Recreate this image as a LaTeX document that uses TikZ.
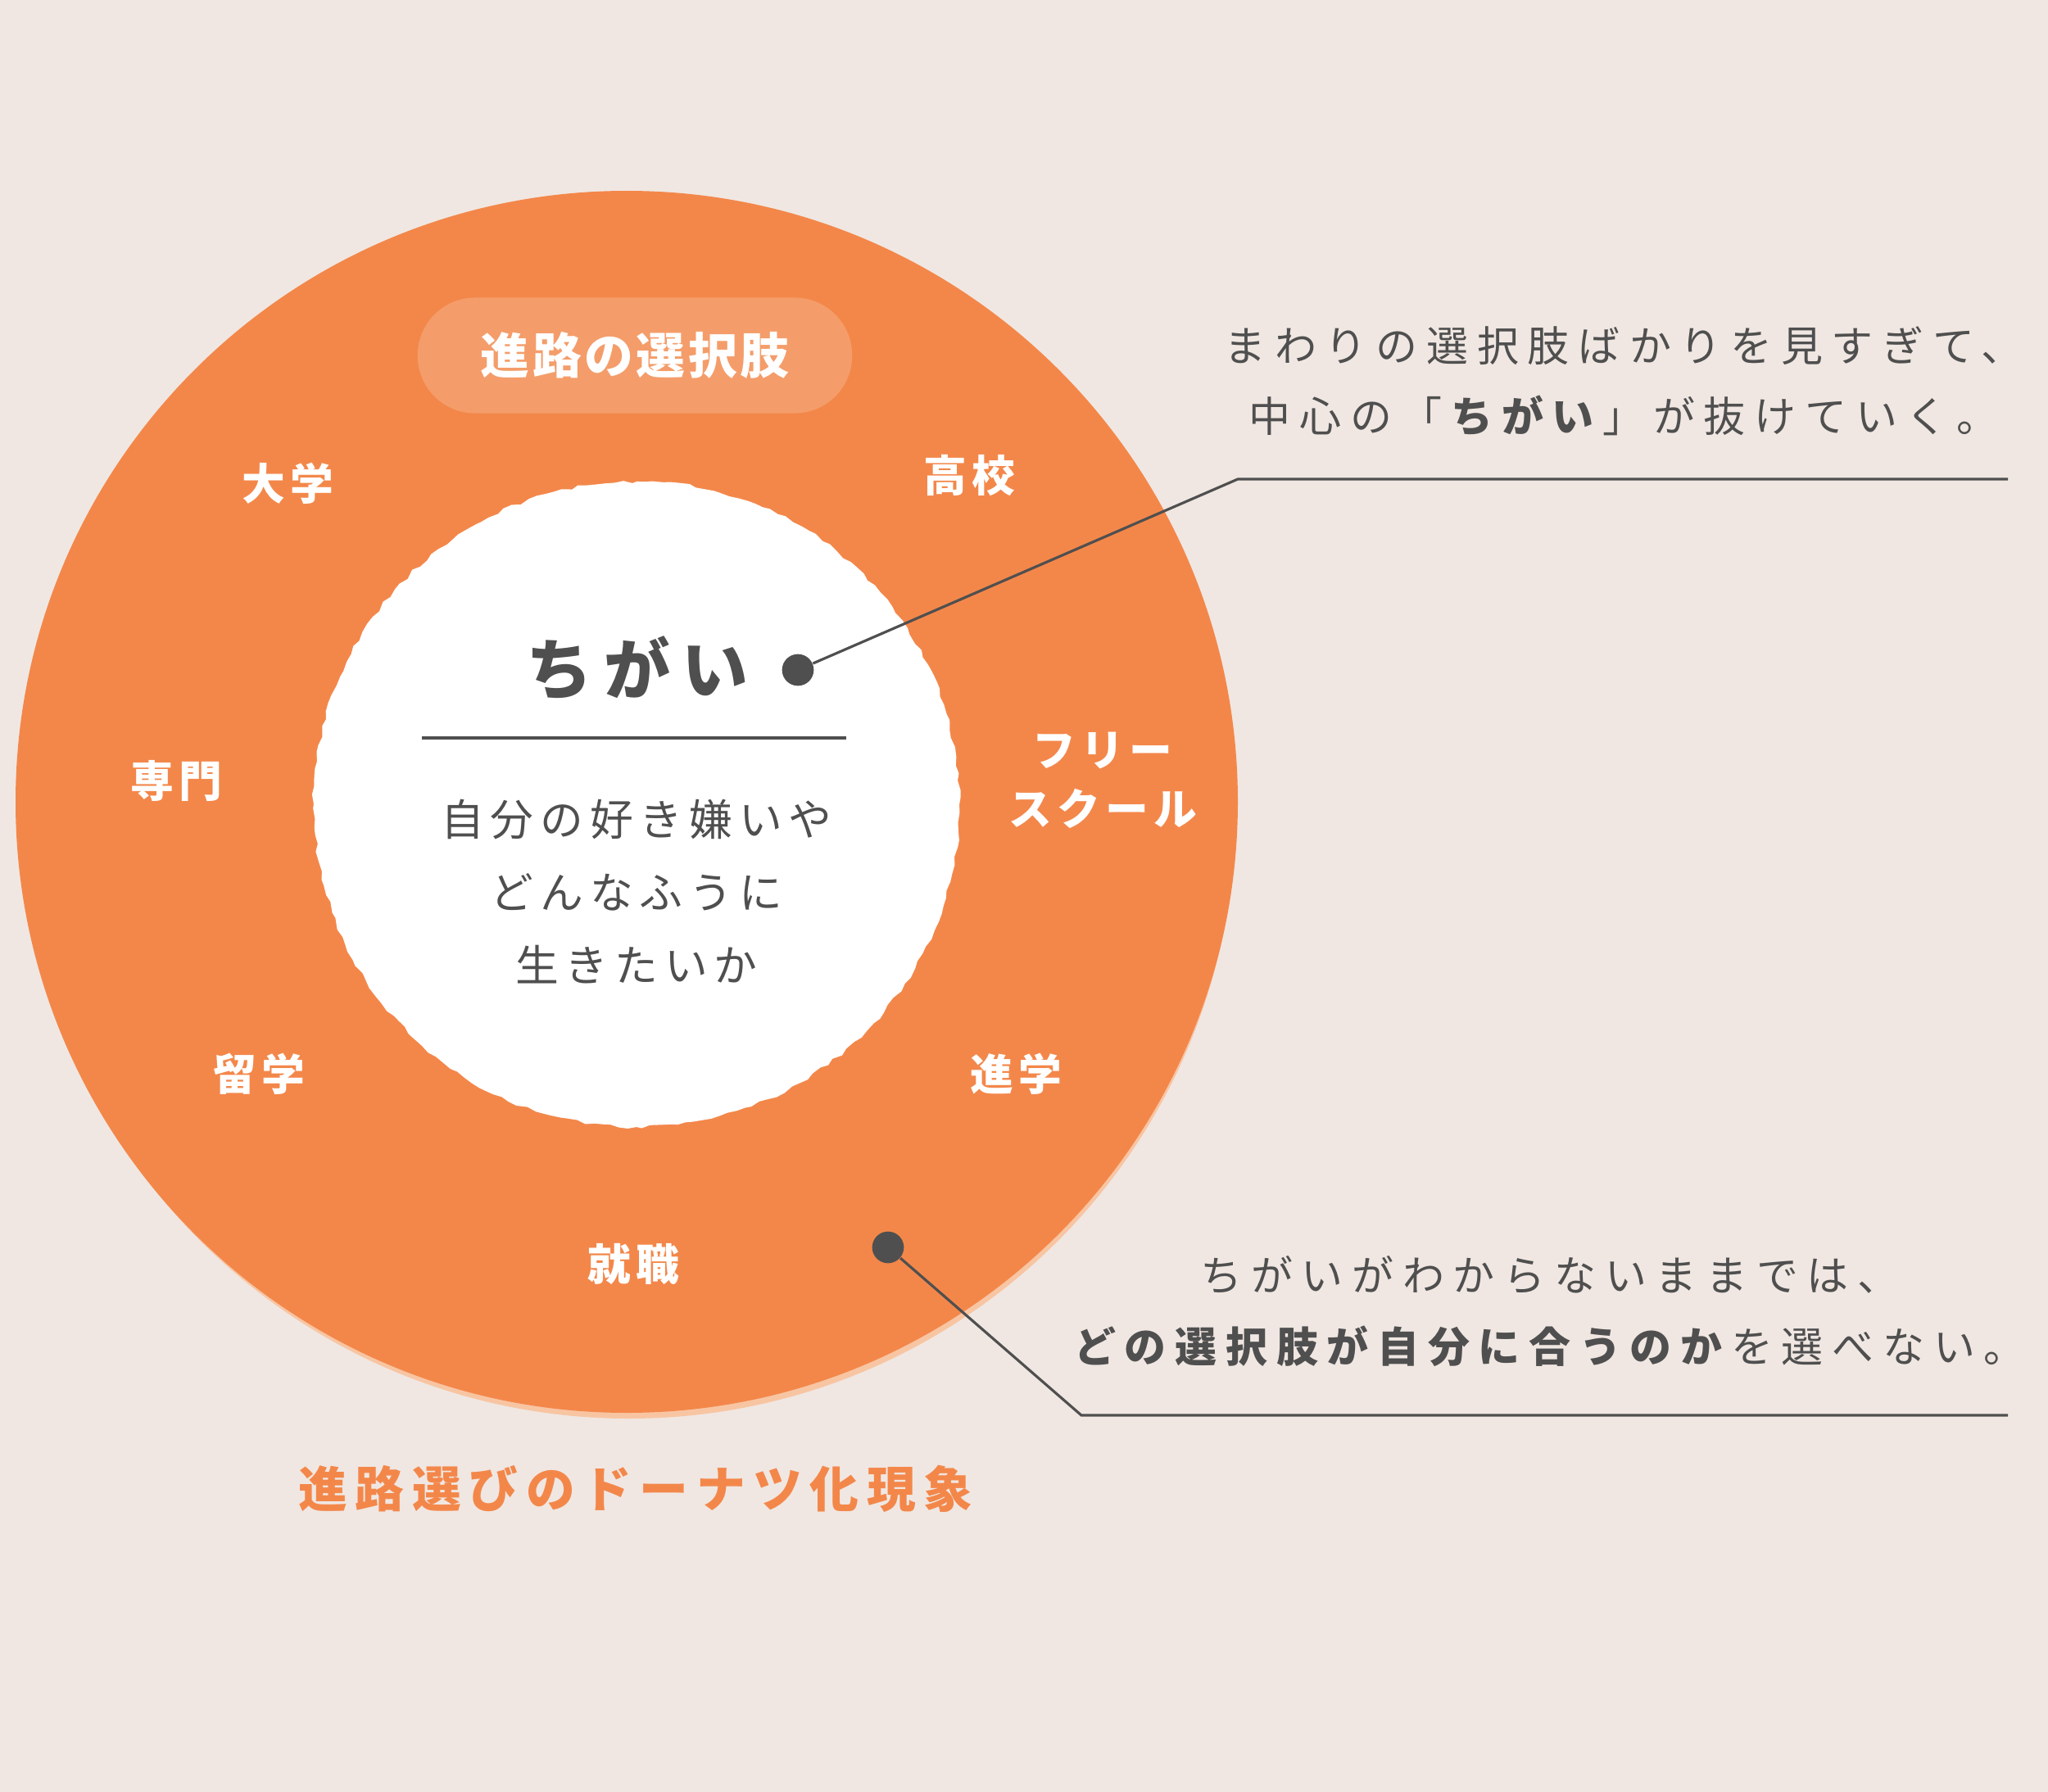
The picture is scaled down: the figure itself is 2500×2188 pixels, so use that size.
\documentclass[tikz,border=0pt]{standalone}
\usepackage{fontspec}
\setmainfont{Noto Sans CJK JP}
\usetikzlibrary{decorations.pathmorphing}

\definecolor{paper}{HTML}{F0E7E2}
\definecolor{donut}{HTML}{F3874A}
\definecolor{peach}{HTML}{F8C5A3}
\definecolor{pill}{HTML}{F49D6A}
\definecolor{ink}{HTML}{4F4F4F}

\begin{document}
\begin{tikzpicture}[x=0.01cm,
					y=-0.01cm,
					ring label/.style={text=white,font=\fontsize{15pt}{20.5pt}\selectfont\bfseries\addfontfeature{LetterSpace=12}},
					body/.style={text=ink,align=center,font=\fontsize{15pt}{25.3pt}\selectfont\addfontfeature{LetterSpace=15}},
					note/.style={text=ink,align=center,font=\fontsize{14.5pt}{24.5pt}\selectfont\addfontfeature{LetterSpace=21}},
					dot/.style={circle,fill=ink,inner sep=0pt,minimum size=11pt},
					leader/.style={draw=ink,line width=0.9pt},
					rough/.style={decorate,decoration={random steps,segment length=3pt,amplitude=0.6pt}}]

  \useasboundingbox (0,0) rectangle (2500,2188);
  \fill[paper] (0,0) rectangle (2500,2188);

  % donut
  \pgfmathsetseed{7}
  \fill[peach] (768,992) circle (740);
  \fill[donut] (765,979) circle (746);
  \fill[white,rough] (777,982) circle (394);

  \node[fill=pill,rounded corners=0.7cm,minimum width=5.3cm,minimum height=1.41cm,text=white,
        font=\fontsize{17pt}{20pt}\selectfont\bfseries\addfontfeature{LetterSpace=6}]
        (title) at (775,434) {進路の選択肢};

  \node[ring label] (uni)     at (351,590)   {大学};
  \node[ring label] (high)    at (1183,580)  {高校};
  \node[ring label] (voc)     at (215,953)   {専門};
  \node[ring label,align=center] (free) at (1346,953) {フリー\\スクール};
  \node[ring label] (abroad)  at (316,1311)  {留学};
  \node[ring label] (advance) at (1240,1311) {進学};
  \node[ring label] (job)     at (773,1543)  {就職};

  % center
  \node[text=ink,font=\fontsize{23pt}{26pt}\selectfont\bfseries\addfontfeature{LetterSpace=17}]
        (chigai) at (778,816) {ちがい};
  \node[body] (self) at (777,1089) {自分の好き嫌いや\\どんなふうに\\生きたいか};
  \coordinate (ruleL) at (515,901);
  \coordinate (ruleR) at (1033,901);
  \draw[draw=ink,line width=1.4pt] (ruleL) -- (ruleR);

  % notes
  \node[dot] (dotA) at (974,818) {};
  \node[dot] (dotB) at (1084,1523) {};
  \coordinate (bendA) at (1511,585);
  \coordinate (endA)  at (2451,585);
  \coordinate (bendB) at (1320,1728);
  \coordinate (endB)  at (2451,1728);
  \path[leader]
    (dotA) -- (bendA) -- (endA)
    (dotB) -- (bendB) -- (endB);

  \node[note] (noteA) at (1982,465)
    {まわりの選択肢ばかりを見すぎて、\\中心の「\textbf{ちがい}」が抜けていく。};
  \node[note] (noteB) at (1892,1601)
    {ちがいがわからないままでは、\\\textbf{どの選択肢が自分に合うのか}を選べない。};

  \node[text=donut,font=\fontsize{17pt}{20pt}\selectfont\bfseries\addfontfeature{LetterSpace=16}]
        (caption) at (776,1818) {進路選びのドーナツ化現象};
\end{tikzpicture}
\end{document}
